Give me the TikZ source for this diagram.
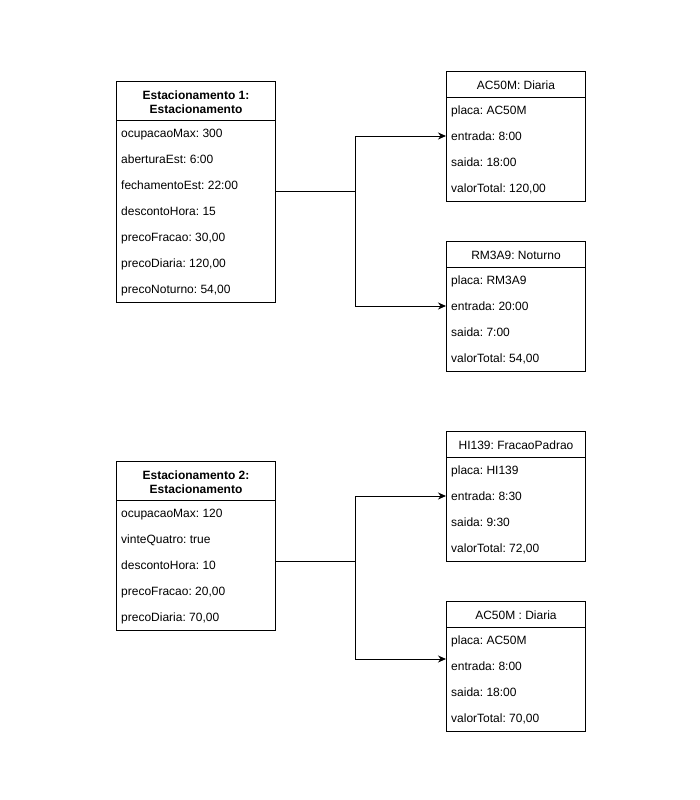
\documentclass[tikz,border=0pt]{standalone}
\usepackage{fontspec}
\setmainfont{Liberation Sans}
\frenchspacing
\usetikzlibrary{arrows.meta}
\begin{document}
\begin{tikzpicture}[x=1pt,y=-1pt,
  every node/.style={font=\fontsize{12}{14}\selectfont},
  boxpart/.style={draw, line width=1pt, anchor=north west, inner sep=0pt, minimum width=#1},
  boxpart/.default=139pt,
  rowtext/.style={anchor=west, inner sep=0pt, text height=9pt, text depth=0pt},
  hdrtext/.style={inner sep=0pt, align=center},
  conn/.style={draw, line width=1pt},
  arr/.style={conn, -{Stealth[length=8pt,width=7pt]}}]
\useasboundingbox (0,0) rectangle (700,800);
\fill[white] (0,0) rectangle (700,800);

% ---------- Estacionamento 1 ----------
\node[boxpart=159pt, minimum height=39pt] (e1h) at (116,81) {};
\node[hdrtext] (e1t) at ([yshift=-1pt]e1h.center) {\textbf{Estacionamento 1:}\\\textbf{Estacionamento}};
\node[boxpart=159pt, minimum height=182pt] (e1b) at (116,120) {};
\node[rowtext] (e1r1) at (121,133) {ocupacaoMax: 300};
\node[rowtext] (e1r2) at (121,159) {aberturaEst: 6:00};
\node[rowtext] (e1r3) at (121,185) {fechamentoEst: 22:00};
\node[rowtext] (e1r4) at (121,211) {descontoHora: 15};
\node[rowtext] (e1r5) at (121,237) {precoFracao: 30,00};
\node[rowtext] (e1r6) at (121,263) {precoDiaria: 120,00};
\node[rowtext] (e1r7) at (121,289) {precoNoturno: 54,00};

% ---------- AC50M: Diaria ----------
\node[boxpart, minimum height=26pt] (d1h) at (446,71) {};
\node[rowtext, anchor=center] (d1t) at (d1h.center) {AC50M: Diaria};
\node[boxpart, minimum height=104pt] (d1b) at (446,97) {};
\node[rowtext] (d1r1) at (451,110) {placa: AC50M};
\node[rowtext] (d1r2) at (451,136) {entrada: 8:00};
\node[rowtext] (d1r3) at (451,162) {saida: 18:00};
\node[rowtext] (d1r4) at (451,188) {valorTotal: 120,00};

% ---------- RM3A9: Noturno ----------
\node[boxpart, minimum height=26pt] (n1h) at (446,241) {};
\node[rowtext, anchor=center] (n1t) at (n1h.center) {RM3A9: Noturno};
\node[boxpart, minimum height=104pt] (n1b) at (446,267) {};
\node[rowtext] (n1r1) at (451,280) {placa: RM3A9};
\node[rowtext] (n1r2) at (451,306) {entrada: 20:00};
\node[rowtext] (n1r3) at (451,332) {saida: 7:00};
\node[rowtext] (n1r4) at (451,358) {valorTotal: 54,00};

% ---------- Estacionamento 2 ----------
\node[boxpart=159pt, minimum height=39pt] (e2h) at (116,461) {};
\node[hdrtext] (e2t) at ([yshift=-1pt]e2h.center) {\textbf{Estacionamento 2:}\\\textbf{Estacionamento}};
\node[boxpart=159pt, minimum height=130pt] (e2b) at (116,500) {};
\node[rowtext] (e2r1) at (121,513) {ocupacaoMax: 120};
\node[rowtext] (e2r2) at (121,539) {vinteQuatro: true};
\node[rowtext] (e2r3) at (121,565) {descontoHora: 10};
\node[rowtext] (e2r4) at (121,591) {precoFracao: 20,00};
\node[rowtext] (e2r5) at (121,617) {precoDiaria: 70,00};

% ---------- HI139: FracaoPadrao ----------
\node[boxpart, minimum height=26pt] (f2h) at (446,431) {};
\node[rowtext, anchor=center] (f2t) at (f2h.center) {HI139: FracaoPadrao};
\node[boxpart, minimum height=104pt] (f2b) at (446,457) {};
\node[rowtext] (f2r1) at (451,470) {placa: HI139};
\node[rowtext] (f2r2) at (451,496) {entrada: 8:30};
\node[rowtext] (f2r3) at (451,522) {saida: 9:30};
\node[rowtext] (f2r4) at (451,548) {valorTotal: 72,00};

% ---------- AC50M : Diaria ----------
\node[boxpart, minimum height=26pt] (d2h) at (446,601) {};
\node[rowtext, anchor=center] (d2t) at (d2h.center) {AC50M : Diaria};
\node[boxpart, minimum height=104pt] (d2b) at (446,627) {};
\node[rowtext] (d2r1) at (451,640) {placa: AC50M};
\node[rowtext] (d2r2) at (451,666) {entrada: 8:00};
\node[rowtext] (d2r3) at (451,692) {saida: 18:00};
\node[rowtext] (d2r4) at (451,718) {valorTotal: 70,00};

% ---------- connectors ----------
\coordinate (j1) at (355,191);
\coordinate (j2) at (355,561);
\coordinate (t4) at (446,659);
\draw[conn] (e1b.east |- j1) -- (j1);
\draw[arr] (j1) |- (d1b.west |- d1r2);
\draw[arr] (j1) |- (n1b.west |- n1r2);
\draw[conn] (e2b.east |- j2) -- (j2);
\draw[arr] (j2) |- (f2b.west |- f2r2);
\draw[arr] (j2) |- (t4);
\end{tikzpicture}
\end{document}
